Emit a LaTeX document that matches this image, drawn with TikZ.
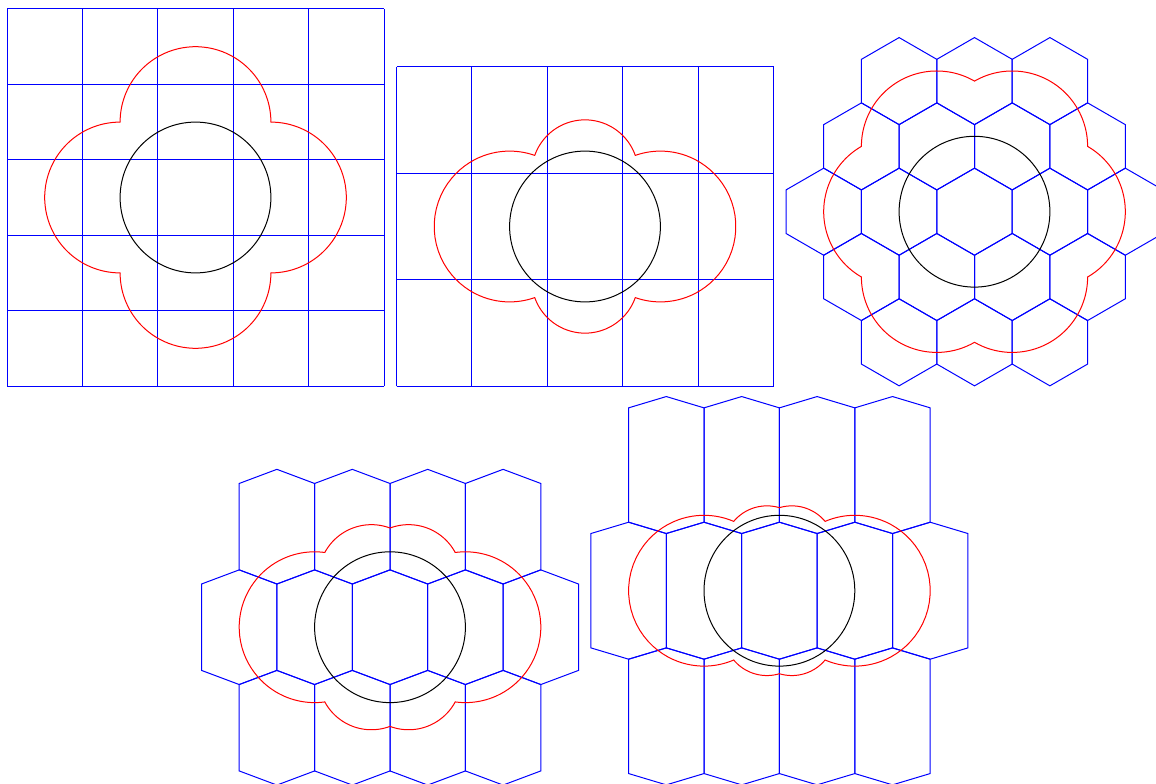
\documentclass[tikz,border=0pt]{standalone}
\tikzset{
  tile/.style={draw=blue, line width=1pt, line join=miter},
  invcurve/.style={draw=red, line width=1pt, line cap=round, line join=round},
  disc/.style={draw=black, line width=1pt},
  panel/.style={x=75.4pt, y=75.4pt}
}
% one hexagonal tile centred at (#1,#2), top vertex height #3, shoulder height #4
\newcommand\hexcell[4]{\draw[tile,shift={(#1,#2)}] (0,#3) -- (0.5,#4) -- (0.5,-#4) -- (0,-#3) -- (-0.5,-#4) -- (-0.5,#4) -- cycle;}
% image of the segment (#1,#2)--(#3,#4) under inversion in the unit circle
\newcommand\invedge[4]{\draw[invcurve] plot[domain=0:1,samples=60,variable=\t]
  ({((#1)+\t*((#3)-(#1)))/(((#1)+\t*((#3)-(#1)))^2+((#2)+\t*((#4)-(#2)))^2)},
   {((#2)+\t*((#4)-(#2)))/(((#1)+\t*((#3)-(#1)))^2+((#2)+\t*((#4)-(#2)))^2)});}
\newcommand\hexinv[2]{%
  \invedge{0}{#1}{0.5}{#2}
  \invedge{0.5}{#2}{0.5}{-#2}
  \invedge{0.5}{-#2}{0}{-#1}
  \invedge{0}{-#1}{-0.5}{-#2}
  \invedge{-0.5}{-#2}{-0.5}{#2}
  \invedge{-0.5}{#2}{0}{#1}}
% three rows of elongated hexagons: row spacing #1
\newcommand\hexrows[3]{%
  \foreach \xx in {-2,-1,0,1,2} {\hexcell{\xx}{0}{#2}{#3}}
  \foreach \xx in {-1.5,-0.5,0.5,1.5} {\hexcell{\xx}{#1}{#2}{#3}\hexcell{\xx}{-#1}{#2}{#3}}}
\begin{document}
\begin{tikzpicture}
\path[use as bounding box] (0pt,0pt) rectangle (1156pt,-784pt);
\clip (0pt,0pt) rectangle (1156pt,-784pt);

% ---------- panel 1: square grid ----------
\begin{scope}[shift={(195.5pt,-197.5pt)}, panel]
  \foreach \i in {-2.5,-1.5,-0.5,0.5,1.5,2.5} {
    \draw[tile] (\i,-2.5) -- (\i,2.5);
    \draw[tile] (-2.5,\i) -- (2.5,\i);}
  \invedge{-0.5}{0.5}{0.5}{0.5}
  \invedge{0.5}{0.5}{0.5}{-0.5}
  \invedge{0.5}{-0.5}{-0.5}{-0.5}
  \invedge{-0.5}{-0.5}{-0.5}{0.5}
  \node[disc, circle, minimum size=150.8pt, inner sep=0pt] (c1) at (0,0) {};
\end{scope}

% ---------- panel 2: rectangular grid ----------
\begin{scope}[shift={(585pt,-226.5pt)}, panel]
  \foreach \i in {-2.5,-1.5,-0.5,0.5,1.5,2.5}
    \draw[tile] (\i,-2.12132) -- (\i,2.12132);
  \foreach \j in {-2.12132,-0.707107,0.707107,2.12132}
    \draw[tile] (-2.5,\j) -- (2.5,\j);
  \invedge{-0.5}{0.707107}{0.5}{0.707107}
  \invedge{0.5}{0.707107}{0.5}{-0.707107}
  \invedge{0.5}{-0.707107}{-0.5}{-0.707107}
  \invedge{-0.5}{-0.707107}{-0.5}{0.707107}
  \node[disc, circle, minimum size=150.8pt, inner sep=0pt] (c2) at (0,0) {};
\end{scope}

% ---------- panel 3: regular hexagons ----------
\begin{scope}[shift={(974.5pt,-211.7pt)}, panel]
  \foreach \xx in {-2,-1,0,1,2} {\hexcell{\xx}{0}{0.57735}{0.288675}}
  \foreach \xx in {-1.5,-0.5,0.5,1.5} {\hexcell{\xx}{0.866025}{0.57735}{0.288675}\hexcell{\xx}{-0.866025}{0.57735}{0.288675}}
  \foreach \xx in {-1,0,1} {\hexcell{\xx}{1.73205}{0.57735}{0.288675}\hexcell{\xx}{-1.73205}{0.57735}{0.288675}}
  \hexinv{0.57735}{0.288675}
  \node[disc, circle, minimum size=150.8pt, inner sep=0pt] (c3) at (0,0) {};
\end{scope}

% ---------- panel 4: elongated hexagons ----------
\begin{scope}[shift={(390pt,-627.2pt)}, panel]
  \hexrows{1.333333}{0.760417}{0.572917}
  \hexinv{0.760417}{0.572917}
  \node[disc, circle, minimum size=150.8pt, inner sep=0pt] (c4) at (0,0) {};
\end{scope}

% ---------- panel 5: more elongated hexagons ----------
\begin{scope}[shift={(779.4pt,-590.7pt)}, panel]
  \hexrows{1.666667}{0.908333}{0.758333}
  \hexinv{0.908333}{0.758333}
  \node[disc, circle, minimum size=150.8pt, inner sep=0pt] (c5) at (0,0) {};
\end{scope}
\end{tikzpicture}
\end{document}
